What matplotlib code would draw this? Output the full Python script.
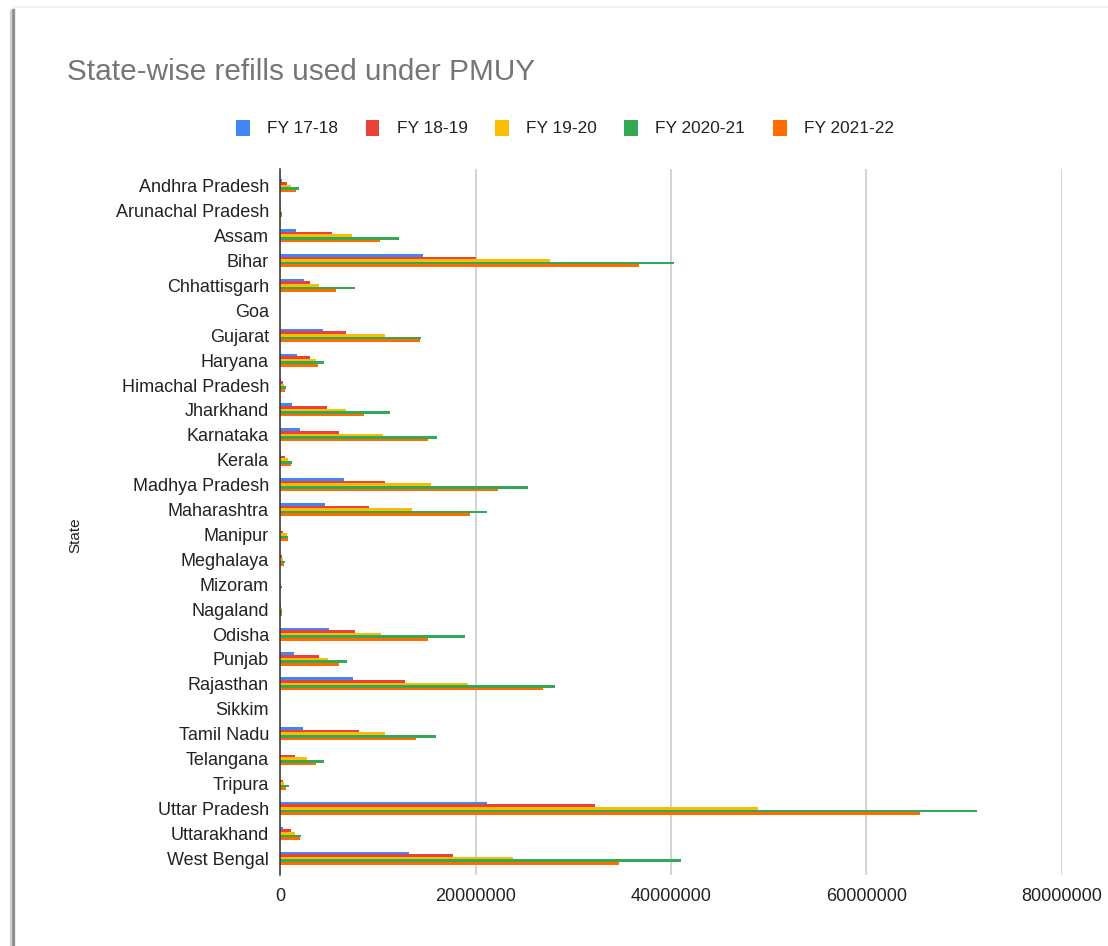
import numpy as np
import matplotlib.pyplot as plt
from matplotlib.patches import Patch
from matplotlib.lines import Line2D
from matplotlib.ticker import FuncFormatter

plt.rcParams['font.family'] = ['Liberation Sans', 'DejaVu Sans']

# refills per state, in millions
states = ["Andhra Pradesh", "Arunachal Pradesh", "Assam", "Bihar", "Chhattisgarh", "Goa",
          "Gujarat", "Haryana", "Himachal Pradesh", "Jharkhand", "Karnataka", "Kerala",
          "Madhya Pradesh", "Maharashtra", "Manipur", "Meghalaya", "Mizoram", "Nagaland",
          "Odisha", "Punjab", "Rajasthan", "Sikkim", "Tamil Nadu", "Telangana", "Tripura",
          "Uttar Pradesh", "Uttarakhand", "West Bengal"]

fy17_18 = [0.17, 0.02, 1.6, 14.6, 2.5, 0.0, 4.4, 1.7, 0.07, 1.26, 2.05, 0.1, 6.5, 4.6,
           0.03, 0.03, 0.01, 0.01, 5.05, 1.43, 7.5, 0.0, 2.35, 0.03, 0.03, 21.2, 0.27, 13.2]
fy18_19 = [0.68, 0.08, 5.3, 20.0, 3.1, 0.01, 6.8, 3.1, 0.34, 4.8, 6.0, 0.5, 10.75, 9.1,
           0.27, 0.2, 0.05, 0.14, 7.7, 4.0, 12.8, 0.01, 8.05, 1.57, 0.27, 32.2, 1.1, 17.7]
fy19_20 = [1.1, 0.12, 7.4, 27.6, 4.0, 0.02, 10.75, 3.7, 0.4, 6.8, 10.5, 0.8, 15.4, 13.5,
           0.68, 0.34, 0.08, 0.2, 10.3, 4.95, 19.2, 0.02, 10.75, 2.8, 0.4, 48.9, 1.57, 23.8]
fy20_21 = [1.9, 0.22, 12.2, 40.3, 7.7, 0.03, 14.4, 4.5, 0.6, 11.3, 16.1, 1.26, 25.4, 21.2,
           0.8, 0.5, 0.2, 0.18, 18.9, 6.9, 28.1, 0.03, 16.0, 4.5, 0.96, 71.3, 2.15, 41.0]
fy21_22 = [1.6, 0.2, 10.2, 36.7, 5.7, 0.02, 14.3, 3.9, 0.5, 8.6, 15.1, 1.1, 22.3, 19.4,
           0.8, 0.38, 0.12, 0.2, 15.1, 6.0, 26.9, 0.02, 13.9, 3.7, 0.65, 65.5, 2.0, 34.7]

series_names = ["FY 17-18", "FY 18-19", "FY 19-20", "FY 2020-21", "FY 2021-22"]
series = [fy17_18, fy18_19, fy19_20, fy20_21, fy21_22]
colors = ["#4285F4", "#EA4335", "#FBBC04", "#34A853", "#FF6D01"]

fig = plt.figure(figsize=(11.08, 9.46), dpi=100)
ax = fig.add_axes([280 / 1108, 71 / 946, (1062 - 280) / 1108, (875 - 169) / 946])

y = np.arange(len(states))
h = 0.105
for i, (vals, c) in enumerate(zip(series, colors)):
    ax.barh(y + (i - 2) * h, np.array(vals) * 1e6, height=h, color=c, zorder=3)

ax.set_xlim(0, 80e6)
ax.set_ylim(len(states) - 0.5 + 0.175, -0.5 - 0.175)
ax.set_xticks([0, 20e6, 40e6, 60e6, 80e6])
ax.xaxis.set_major_formatter(FuncFormatter(lambda v, p: "%d" % v))
ax.set_yticks(y)
ax.set_yticklabels(states)
ax.tick_params(axis='x', length=0, pad=9, labelsize=13, labelcolor='#222222')
ax.tick_params(axis='y', length=0, pad=8, labelsize=13, labelcolor='#222222')
ax.grid(axis='x', color='#d3d3d3', linewidth=1.4, zorder=0)
for s in ['top', 'right', 'bottom']:
    ax.spines[s].set_visible(False)
ax.spines['left'].set_color('#333333')
ax.spines['left'].set_linewidth(1.1)
ax.spines['left'].set_zorder(4)

fig.text(75 / 1108, 1 - 535 / 946, "State", rotation=90, ha='center', va='center',
         fontsize=11, color='#222222')

fig.text(67 / 1108, 1 - 72 / 946, "State-wise refills used under PMUY", ha='left',
         va='center', fontsize=21.4, color='#757575')

handles = [Patch(facecolor=c, edgecolor='none') for c in colors]
fig.legend(handles, series_names, loc='center', bbox_to_anchor=(565 / 1108, 1 - 128 / 946),
           ncol=5, frameon=False, fontsize=12.4, handlelength=0.8, handleheight=1.05,
           handletextpad=1.0, columnspacing=1.6, labelcolor='#222222')

# page frame edges
fig.add_artist(Line2D([13 / 1108, 13 / 1108], [0, 1 - 10 / 946], color='#8f8f8f', lw=2.4))
fig.add_artist(Line2D([10.5 / 1108, 10.5 / 1108], [0, 1 - 11 / 946], color='#d0d0d0', lw=1.6))
fig.add_artist(Line2D([14 / 1108, 1], [1 - 7 / 946, 1 - 7 / 946], color='#f0f0f0', lw=1.2))

fig.savefig("out.png", dpi=100, facecolor='white')
